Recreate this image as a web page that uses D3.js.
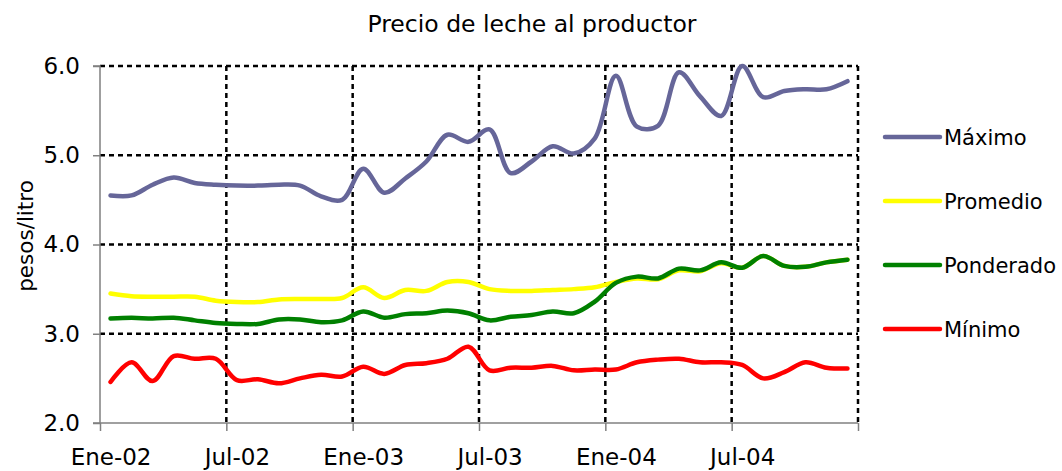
<!DOCTYPE html>
<html>
<head>
<meta charset="utf-8">
<script src="https://cdn.jsdelivr.net/npm/d3@7"></script>
<style>
  html, body { margin: 0; padding: 0; background: #fff; }
  svg { display: block; font-family: "DejaVu Sans", Verdana, sans-serif; }
</style>
</head>
<body>
<svg id="chart" width="1062" height="471"></svg>
<script>
const months = [
  "Ene-02","Feb-02","Mar-02","Abr-02","May-02","Jun-02","Jul-02","Ago-02","Sep-02","Oct-02","Nov-02","Dic-02",
  "Ene-03","Feb-03","Mar-03","Abr-03","May-03","Jun-03","Jul-03","Ago-03","Sep-03","Oct-03","Nov-03","Dic-03",
  "Ene-04","Feb-04","Mar-04","Abr-04","May-04","Jun-04","Jul-04","Ago-04","Sep-04","Oct-04","Nov-04","Dic-04"
];
const maximo = [
  4.55, 4.55, 4.67, 4.75, 4.69, 4.67, 4.66, 4.66, 4.67, 4.66, 4.54, 4.50,
  4.85, 4.58, 4.74, 4.93, 5.23, 5.15, 5.29, 4.80, 4.93, 5.10, 5.02, 5.19,
  5.89, 5.32, 5.33, 5.93, 5.66, 5.44, 6.00, 5.65, 5.72, 5.74, 5.74, 5.83
];
const promedio = [
  3.45, 3.42, 3.415, 3.415, 3.415, 3.37, 3.355, 3.355, 3.385, 3.39, 3.39, 3.40,
  3.52, 3.40, 3.49, 3.48, 3.58, 3.58, 3.50, 3.48, 3.48, 3.49, 3.50, 3.52,
  3.58, 3.62, 3.61, 3.71, 3.70, 3.79, 3.74, 3.87, 3.76, 3.75, 3.80, 3.83
];
const ponderado = [
  3.17, 3.18, 3.17, 3.18, 3.15, 3.12, 3.11, 3.11, 3.16, 3.16, 3.13, 3.15,
  3.25, 3.18, 3.22, 3.23, 3.26, 3.23, 3.15, 3.19, 3.21, 3.25, 3.23, 3.36,
  3.57, 3.64, 3.62, 3.73, 3.71, 3.80, 3.74, 3.87, 3.76, 3.75, 3.80, 3.83
];
const minimo = [
  2.46, 2.68, 2.47, 2.75, 2.72, 2.72, 2.48, 2.49, 2.445, 2.50, 2.54, 2.52,
  2.63, 2.55, 2.65, 2.67, 2.72, 2.855, 2.59, 2.62, 2.62, 2.64, 2.59, 2.60,
  2.60, 2.68, 2.71, 2.72, 2.68, 2.68, 2.65, 2.50, 2.57, 2.68, 2.62, 2.61
];
const seriesNames = ["Máximo", "Promedio", "Ponderado", "Mínimo"];
const seriesColors = ["#666699", "#FFFF00", "#008000", "#FF0000"];
const xTickLabels = ["Ene-02", "Jul-02", "Ene-03", "Jul-03", "Ene-04", "Jul-04", ""];
const yTicks = [2.0, 3.0, 4.0, 5.0, 6.0];
const titleText = "Precio de leche al productor";
const yAxisTitle = "pesos/litro";

const seriesData = [maximo, promedio, ponderado, minimo];

(function () {
const svg = d3.select("#chart");
const pLeft = 100, pRight = 858, pTop = 66, pBottom = 423;

const x = d3.scaleLinear().domain([0, months.length]).range([pLeft, pRight]);
const y = d3.scaleLinear().domain([2, 6]).range([pBottom, pTop]);
const xTickVals = d3.range(0, months.length + 1, 6);
const halfMonth = x(0.5) - x(0);

// Gridlines
const grid = svg.append("g");
grid.selectAll("line.h").data(yTicks.filter(d => d > 2)).enter().append("line")
  .attr("x1", pLeft).attr("x2", pRight)
  .attr("y1", d => y(d)).attr("y2", d => y(d))
  .attr("stroke", "#000").attr("stroke-width", 2.5).attr("stroke-dasharray", "5,4");
grid.selectAll("line.v").data(xTickVals.filter(d => d > 0)).enter().append("line")
  .attr("x1", d => x(d)).attr("x2", d => x(d))
  .attr("y1", pTop).attr("y2", pBottom)
  .attr("stroke", "#000").attr("stroke-width", 2.5).attr("stroke-dasharray", "5,4");

// Axes
const yAxis = d3.axisLeft(y).tickValues(yTicks).tickFormat(d3.format(".1f")).tickSize(7).tickPadding(13);
const gy = svg.append("g").attr("transform", `translate(${pLeft},0)`).call(yAxis);
const xAxis = d3.axisBottom(x).tickValues(xTickVals).tickFormat((d, i) => xTickLabels[i]).tickSize(8).tickPadding(18);
const gx = svg.append("g").attr("transform", `translate(0,${pBottom})`).call(xAxis);
[gx, gy].forEach(g => {
  g.select(".domain").attr("stroke", "#808080").attr("stroke-width", 1.5);
  g.selectAll(".tick line").attr("stroke", "#808080").attr("stroke-width", 1.5);
  g.selectAll(".tick text").attr("fill", "#000").style("font-size", "23px")
    .style("font-family", "'DejaVu Sans', Verdana, sans-serif");
});
gx.selectAll(".tick text").attr("x", halfMonth);
gy.select(".domain").attr("d", `M-7,${pTop}H0V${pBottom}H-7`);
gx.select(".domain").attr("d", `M${pLeft},0H${pRight}`);

// Lines
const line = d3.line()
  .x((d, i) => x(i + 0.5))
  .y(d => y(d))
  .curve(d3.curveCatmullRom.alpha(0.5));
svg.append("g").selectAll("path").data(seriesData).enter().append("path")
  .attr("d", d => line(d))
  .attr("fill", "none")
  .attr("stroke", (d, i) => seriesColors[i])
  .attr("stroke-width", 4.5)
  .attr("stroke-linecap", "round")
  .attr("stroke-linejoin", "round");

// Title
svg.append("text").attr("x", 532).attr("y", 32).attr("text-anchor", "middle")
  .style("font-size", "23.5px").attr("fill", "#000").text(titleText);

// Y axis title
svg.append("text").attr("transform", "translate(33,236) rotate(-90)")
  .attr("text-anchor", "middle").style("font-size", "21.5px").attr("fill", "#000").text(yAxisTitle);

// Legend
const legendY = [137, 201, 265, 329];
const lg = svg.append("g").selectAll("g").data(seriesNames).enter().append("g")
  .attr("transform", (d, i) => `translate(0,${legendY[i]})`);
lg.append("line").attr("x1", 885).attr("x2", 940).attr("y1", 0).attr("y2", 0)
  .attr("stroke", (d, i) => seriesColors[i]).attr("stroke-width", 4.5).attr("stroke-linecap", "round");
lg.append("text").attr("x", 944).attr("y", 0).attr("dy", "0.36em")
  .style("font-size", "21px").attr("fill", "#000").text(d => d);
})();
</script>
</body>
</html>
